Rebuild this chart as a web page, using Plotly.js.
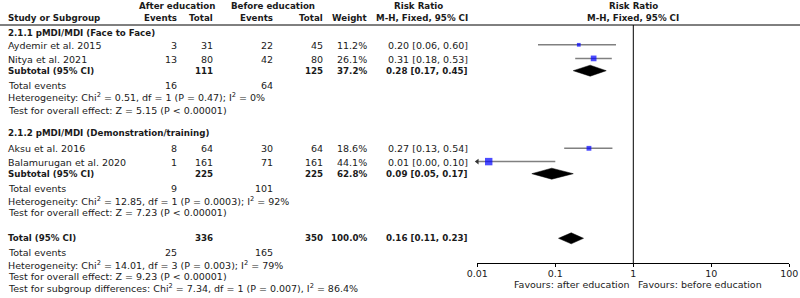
<!DOCTYPE html>
<html><head><meta charset="utf-8">
<script src="https://cdn.plot.ly/plotly-3.0.1.min.js"></script>
<style>html,body{margin:0;padding:0;background:#fff}</style>
</head><body><div id="chart" style="width:800px;height:298px"></div>
<script>
// ---------- table data (one entry per row) ----------
const rowLabels = [
  "2.1.1 pMDI/MDI (Face to Face)",
  "Aydemir et al. 2015",
  "Nitya et al. 2021",
  "Subtotal (95% CI)",
  "Total events",
  "Heterogeneity: Chi<sup>2</sup> = 0.51, df = 1 (P = 0.47); I<sup>2</sup> = 0%",
  "Test for overall effect: Z = 5.15 (P < 0.00001)",
  "2.1.2 pMDI/MDI (Demonstration/training)",
  "Aksu et al. 2016",
  "Balamurugan et al. 2020",
  "Subtotal (95% CI)",
  "Total events",
  "Heterogeneity: Chi<sup>2</sup> = 12.85, df = 1 (P = 0.0003); I<sup>2</sup> = 92%",
  "Test for overall effect: Z = 7.23 (P < 0.00001)",
  "Total (95% CI)",
  "Total events",
  "Heterogeneity: Chi<sup>2</sup> = 14.01, df = 3 (P = 0.003); I<sup>2</sup> = 79%",
  "Test for overall effect: Z = 9.23 (P < 0.00001)",
  "Test for subgroup differences: Chi<sup>2</sup> = 7.34, df = 1 (P = 0.007), I<sup>2</sup> = 86.4%"
];
const rowBold      = [1,0,0,1,0,0,0,1,0,0,1,0,0,0,1,0,0,0,0];
const afterEvents  = ["","3","13","","16","","","","8","1","","9","","","","25","","",""];
const afterTotal   = ["","31","80","111","","","","","64","161","225","","","","336","","","",""];
const beforeEvents = ["","22","42","","64","","","","30","71","","101","","","","165","","",""];
const beforeTotal  = ["","45","80","125","","","","","64","161","225","","","","350","","","",""];
const weightText   = ["","11.2%","26.1%","37.2%","","","","","18.6%","44.1%","62.8%","","","","100.0%","","","",""];
const rrText       = ["","0.20 [0.06, 0.60]","0.31 [0.18, 0.53]","0.28 [0.17, 0.45]","","","","",
                      "0.27 [0.13, 0.54]","0.01 [0.00, 0.10]","0.09 [0.05, 0.17]","","","",
                      "0.16 [0.11, 0.23]","","","",""];

// ---------- forest data ----------
const studyRow    = [1, 2, 8, 9];
const studyRR     = [0.20, 0.31, 0.27, 0.014];
const studyLo     = [0.06, 0.18, 0.13, 0.002];
const studyHi     = [0.60, 0.53, 0.54, 0.10];
const studyWeight = [11.2, 26.1, 18.6, 44.1];
const pooledRow   = [3, 10, 14];
const pooledRR    = [0.28, 0.09, 0.16];
const pooledLo    = [0.17, 0.05, 0.11];
const pooledHi    = [0.45, 0.17, 0.23];
const tickVals    = [0.01, 0.1, 1, 10, 100];
const tickText    = ["0.01", "0.1", "1", "10", "100"];

// ---------- layout positions (pixels) ----------
const rowY = [32.7, 45.4, 59, 70.7, 85, 97.3, 110, 133.3, 148.9, 162.2, 173.7, 188.3, 201, 212.7, 238.3, 252.5, 265, 276.7, 288.3];
const AXIS_Y = 263.3, HEAD_LINE_Y = 25;
const FONT = "DejaVu Sans, Verdana, sans-serif";
const FS = 9.5, FS_BOLD = 8.7;
const TXT = "#1a1a1a";

const ann = [];
function add(text, x, y, anchor, bold) {
  if (text === "") return;
  ann.push({
    text: bold ? "<b>" + text + "</b>" : text, x: x, y: y, xref: "x", yref: "y",
    xanchor: anchor, yanchor: "middle", showarrow: false, borderpad: 0,
    font: {family: FONT, size: bold ? FS_BOLD : FS, color: TXT}
  });
}
// headers
add("After education", 177, 5.7, "center", true);
add("Before education", 273, 5.7, "center", true);
add("Risk Ratio", 418, 5.7, "center", true);
add("Risk Ratio", 633, 5.7, "center", true);
add("Study or Subgroup", 7, 18.3, "left", true);
add("Events", 178, 18.3, "right", true);
add("Total", 214, 18.3, "right", true);
add("Events", 274, 18.3, "right", true);
add("Total", 324, 18.3, "right", true);
add("Weight", 368, 18.3, "right", true);
add("M-H, Fixed, 95% CI", 469, 18.3, "right", true);
add("M-H, Fixed, 95% CI", 633, 18.3, "center", true);
// table rows
rowLabels.forEach((t, i) => {
  const y = rowY[i], b = rowBold[i] === 1;
  add(t, 7, y, "left", b);
  add(afterEvents[i], 178, y, "right", false);
  add(afterTotal[i], 214, y, "right", b);
  add(beforeEvents[i], 274, y, "right", false);
  add(beforeTotal[i], 324, y, "right", b);
  add(weightText[i], 368, y, "right", b);
  add(rrText[i], 469, y, "right", b);
});
add("Favours: after education", 631, 284, "right", false);
add("Favours: before education", 637, 284, "left", false);

// ---------- traces ----------
const traces = [];
// dummy trace to establish pixel axes
traces.push({x: [0, 800], y: [0, 298], xaxis: "x", yaxis: "y", mode: "markers",
  marker: {opacity: 0}, hoverinfo: "skip", showlegend: false});
// line of no effect
traces.push({x: [1, 1], y: [HEAD_LINE_Y, AXIS_Y], xaxis: "x2", yaxis: "y2", mode: "lines",
  line: {color: "#000", width: 1}, hoverinfo: "skip", showlegend: false});
// CI lines
const ciX = [], ciY = [];
studyRow.forEach((r, i) => { ciX.push(studyLo[i], studyHi[i], null); ciY.push(rowY[r] - 0.6, rowY[r] - 0.6, null); });
traces.push({x: ciX, y: ciY, xaxis: "x2", yaxis: "y2", mode: "lines",
  line: {color: "#808080", width: 1.5}, hoverinfo: "skip", showlegend: false});
// arrows for CIs running off the axis
const arX = [], arY = [];
studyRow.forEach((r, i) => { if (studyLo[i] < tickVals[0]) { arX.push(tickVals[0]); arY.push(rowY[r] - 0.6); } });
traces.push({x: arX, y: arY, xaxis: "x2", yaxis: "y2", mode: "markers", cliponaxis: false,
  marker: {symbol: "triangle-left", size: 5, color: "#333"}, hoverinfo: "skip", showlegend: false});
// squares
traces.push({x: studyRR, y: studyRow.map(r => rowY[r] - 0.6), xaxis: "x2", yaxis: "y2", mode: "markers",
  cliponaxis: false,
  marker: {symbol: "square", size: studyWeight.map(w => Math.sqrt(w) * 1.12), color: "#0000ff", line: {width: 0}},
  hoverinfo: "skip", showlegend: false});
// diamonds
pooledRow.forEach((r, i) => {
  const y = rowY[r], h = 5.5;
  traces.push({x: [pooledLo[i], pooledRR[i], pooledHi[i], pooledRR[i], pooledLo[i]],
    y: [y, y - h, y, y + h, y], xaxis: "x2", yaxis: "y2", mode: "lines", fill: "toself",
    fillcolor: "#000", line: {color: "#000", width: 0.5}, hoverinfo: "skip", showlegend: false});
});

const layout = {
  width: 800, height: 298, margin: {l: 0, r: 0, t: 0, b: 0},
  paper_bgcolor: "#fff", plot_bgcolor: "rgba(0,0,0,0)", showlegend: false,
  xaxis: {range: [0, 800], domain: [0, 1], visible: false, fixedrange: true},
  yaxis: {range: [298, 0], domain: [0, 1], visible: false, fixedrange: true},
  xaxis2: {type: "log", range: [-2, 2], domain: [477.3 / 800, 789.3 / 800], anchor: "y2",
    showline: true, linecolor: "#000", linewidth: 1, showgrid: false, zeroline: false,
    ticks: "outside", ticklen: 3, tickcolor: "#000", tickwidth: 1, ticklabelstandoff: -2,
    tickvals: tickVals, ticktext: tickText, tickfont: {family: FONT, size: FS, color: TXT}},
  yaxis2: {range: [AXIS_Y, 0], domain: [(298 - AXIS_Y) / 298, 1], visible: false, fixedrange: true},
  shapes: [{type: "line", xref: "x", yref: "y", x0: 0, x1: 800, y0: HEAD_LINE_Y, y1: HEAD_LINE_Y,
    line: {color: "#000", width: 1}}],
  annotations: ann
};
Plotly.newPlot("chart", traces, layout, {staticPlot: true, displayModeBar: false});
</script></body></html>
